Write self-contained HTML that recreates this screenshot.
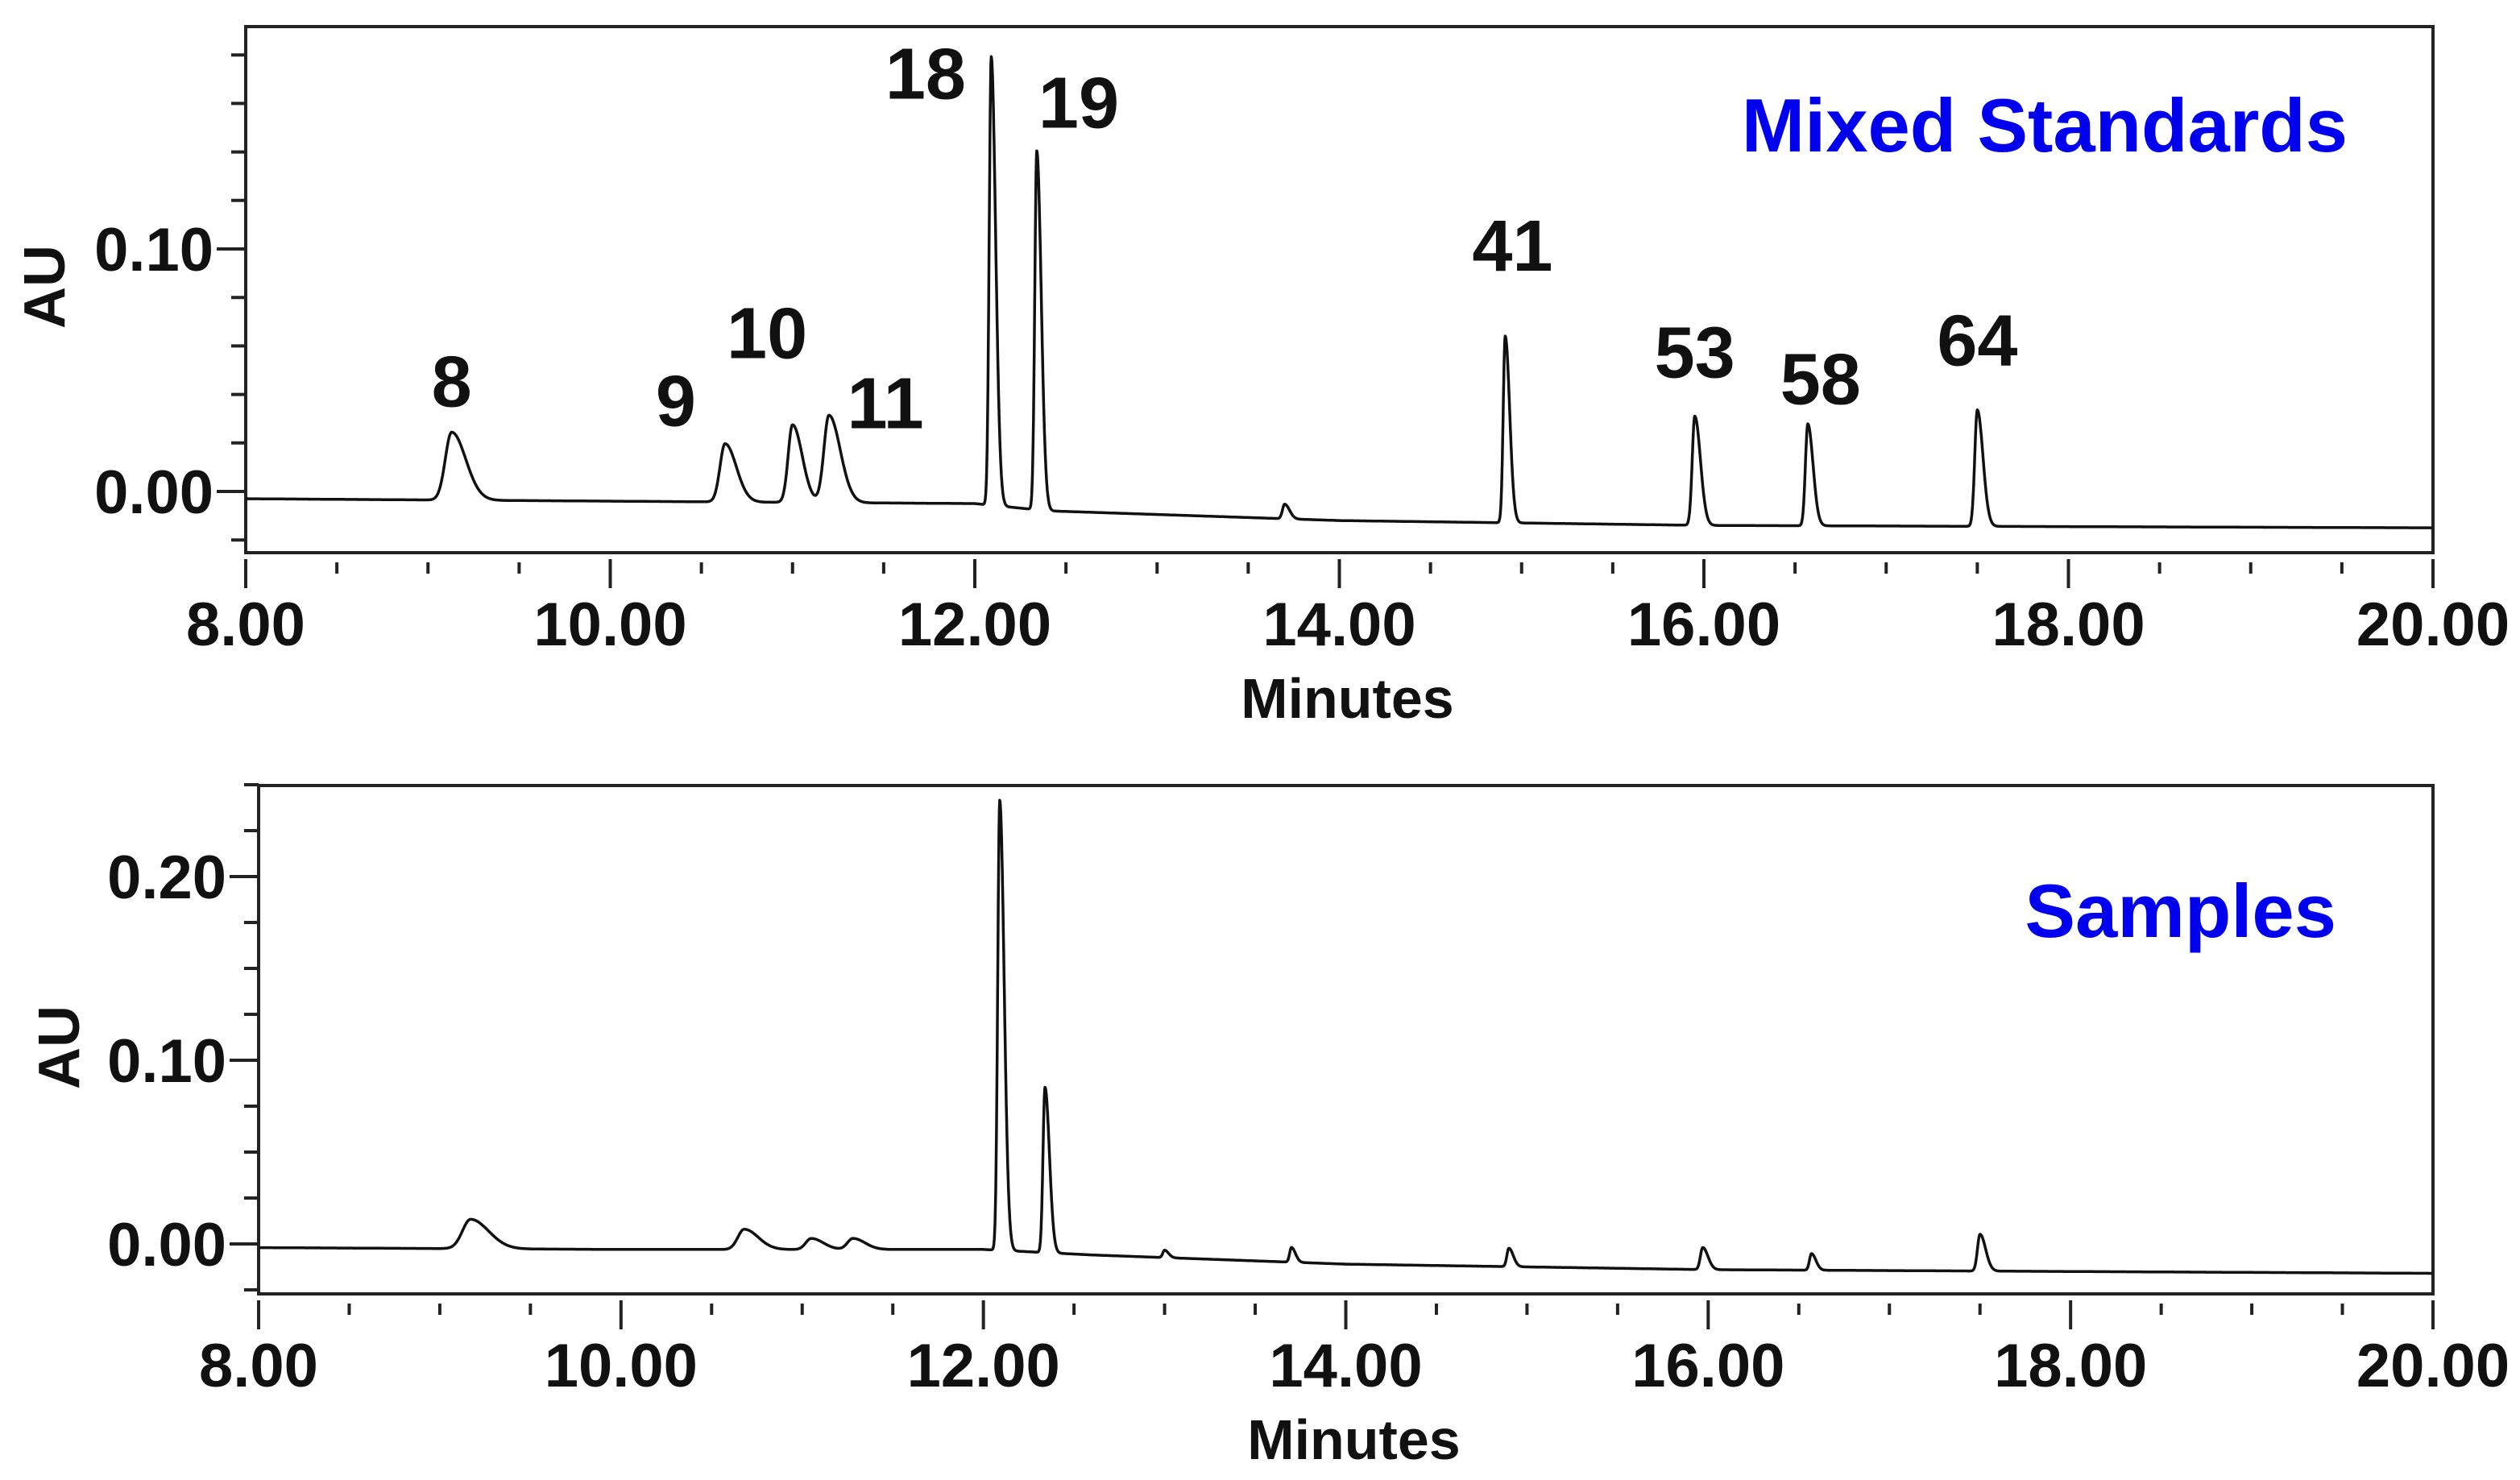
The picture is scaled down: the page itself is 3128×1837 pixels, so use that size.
<!DOCTYPE html>
<html><head><meta charset="utf-8"><style>
html,body{margin:0;padding:0;background:#fff}
svg{display:block}
text{font-family:"Liberation Sans",Arial,sans-serif;font-weight:bold}
</style></head><body>
<svg id="chart" width="3128" height="1837" viewBox="0 0 3128 1837"></svg>
<script>
// ---- data ----
const xTicks = [8,10,12,14,16,18,20];
const xTickLabels = ["8.00","10.00","12.00","14.00","16.00","18.00","20.00"];
// top panel (Mixed Standards)
const stdPeakTimes = [9.13,10.63,11.0,11.2,12.09,12.34,13.7,14.91,15.95,16.57,17.5];
const stdPeakHeights = [0.028,0.024,0.032,0.036,0.185,0.148,0.006,0.077,0.045,0.042,0.048];
const stdPeakWidths = [0.035,0.028,0.024,0.028,0.011,0.011,0.012,0.011,0.014,0.013,0.014];
const stdBaseT = [8,10,12,12.4,14,16,20];
const stdBaseV = [-0.003,-0.004,-0.005,-0.008,-0.012,-0.014,-0.015];
const stdLabels = ["8","9","10","11","18","19","41","53","58","64"];
const stdLabelT = [9.13,10.36,10.86,11.51,11.73,12.57,14.95,15.95,16.64,17.5];
const stdLabelV = [0.035,0.027,0.055,0.026,0.162,0.15,0.091,0.047,0.036,0.052];
const stdYTicks = [0.00,0.10];
const stdYTickLabels = ["0.00","0.10"];
// bottom panel (Samples)
const smpPeakTimes = [9.17,10.68,11.05,11.28,12.09,12.34,13.0,13.7,14.9,15.97,16.57,17.5];
const smpPeakHeights = [0.016,0.011,0.006,0.006,0.245,0.09,0.004,0.008,0.01,0.012,0.009,0.02];
const smpPeakWidths = [0.045,0.035,0.03,0.03,0.011,0.011,0.01,0.01,0.011,0.013,0.011,0.014];
const smpBaseT = [8,10,12,12.6,14,16,20];
const smpBaseV = [-0.002,-0.003,-0.003,-0.006,-0.011,-0.014,-0.016];
const smpYTicks = [0.00,0.10,0.20];
const smpYTickLabels = ["0.00","0.10","0.20"];

const NS="http://www.w3.org/2000/svg";
const svg=document.getElementById('chart');
function el(tag,attrs,parent){const e=document.createElementNS(NS,tag);for(const k in attrs)e.setAttribute(k,attrs[k]);(parent||svg).appendChild(e);return e;}
function interp(ts,vs,t){for(let i=0;i<ts.length-1;i++){if(t<=ts[i+1]){const f=(t-ts[i])/(ts[i+1]-ts[i]);return vs[i]+f*(vs[i+1]-vs[i]);}}return vs[vs.length-1];}
function signal(t,pt,ph,pw,bt,bv){let v=interp(bt,bv,t);for(let i=0;i<pt.length;i++){const d=t-pt[i];const s=d<0?pw[i]:pw[i]*2.2;v+=ph[i]*Math.exp(-0.5*d*d/(s*s));}return v;}

function panel(o){
  const g=el('g',{});
  
  
  const X=t=>o.left+(t-8)/12*(o.right-o.left);
  const Y=v=>o.y0-v*o.pxPer;
  const fr=el('rect',{x:o.left,y:o.top,width:o.right-o.left,height:o.bottom-o.top,fill:'none',stroke:'#222','stroke-width':4},g);
  
  
  for(let v=o.minorStart;v<=o.minorEnd+1e-9;v+=o.minorStep){
    const t=el('line',{x1:o.left-18,x2:o.left,y1:Y(v),y2:Y(v),stroke:'#222','stroke-width':4},g);
    
    
  }
  o.yTicks.forEach((v,i)=>{
    const t=el('line',{x1:o.left-36,x2:o.left,y1:Y(v),y2:Y(v),stroke:'#222','stroke-width':4},g);
    
    
    const l=el('text',{x:o.left-40,y:Y(v)+27,'text-anchor':'end','font-size':76,fill:'#111'},g);
    l.textContent=o.yLabels[i];
    
    
  });
  for(let t=8;t<=20.001;t+=0.5){
    const major=Math.abs(t-Math.round(t/2)*2)<1e-6;
    const tk=el('line',{x1:X(t),x2:X(t),y1:o.bottom+(major?8:12),y2:o.bottom+(major?44:26),stroke:'#222','stroke-width':4},g);
    
    
  }
  xTicks.forEach((t,i)=>{
    const l=el('text',{x:X(t),y:o.bottom+115,'text-anchor':'middle','font-size':76,fill:'#111'},g);
    l.textContent=xTickLabels[i];
    
    
  });
  const xt=el('text',{x:(o.left+o.right)/2+10,y:o.bottom+205,'text-anchor':'middle','font-size':70,fill:'#111'},g);
  xt.textContent='Minutes';
  
  
  const yt=el('text',{x:0,y:0,'text-anchor':'middle','font-size':72,fill:'#111',transform:`translate(${o.auX},${o.auY}) rotate(-90)`},g);
  yt.textContent='AU';
  
  
  let d='';
  for(let t=8;t<=20;t+=0.002){const v=signal(t,o.pt,o.ph,o.pw,o.bt,o.bv);d+=(d?'L':'M')+X(t).toFixed(1)+' '+Y(v).toFixed(1);}
  const p=el('path',{d:d,fill:'none',stroke:'#111','stroke-width':3.5,'stroke-linejoin':'round'},g);
  
  
  if(o.labels){o.labels.forEach((s,i)=>{
    const l=el('text',{x:X(o.labelT[i]),y:Y(o.labelV[i]),'text-anchor':'middle','font-size':90,fill:'#111'},g);
    l.textContent=s;
    
    
  });}
  const title=el('text',{x:o.titleX,y:o.titleY,'text-anchor':'end','font-size':94,fill:'#0000ee'},g);
  title.textContent=o.title;
  
  
}

panel({name:'mixed-standards-panel',left:305,right:3020,top:33,bottom:686,y0:610,pxPer:3010,
  minorStart:-0.02,minorEnd:0.18,minorStep:0.02,yTicks:stdYTicks,yLabels:stdYTickLabels,
  pt:stdPeakTimes,ph:stdPeakHeights,pw:stdPeakWidths,bt:stdBaseT,bv:stdBaseV,
  labels:stdLabels,labelT:stdLabelT,labelV:stdLabelV,
  title:'Mixed Standards',titleX:2914,titleY:188,auX:80,auY:356});
panel({name:'samples-panel',left:321,right:3020,top:975,bottom:1606,y0:1544,pxPer:2280,
  minorStart:-0.025,minorEnd:0.25,minorStep:0.025,yTicks:smpYTicks,yLabels:smpYTickLabels,
  pt:smpPeakTimes,ph:smpPeakHeights,pw:smpPeakWidths,bt:smpBaseT,bv:smpBaseV,
  title:'Samples',titleX:2900,titleY:1163,auX:98,auY:1300});
</script>
</body></html>
